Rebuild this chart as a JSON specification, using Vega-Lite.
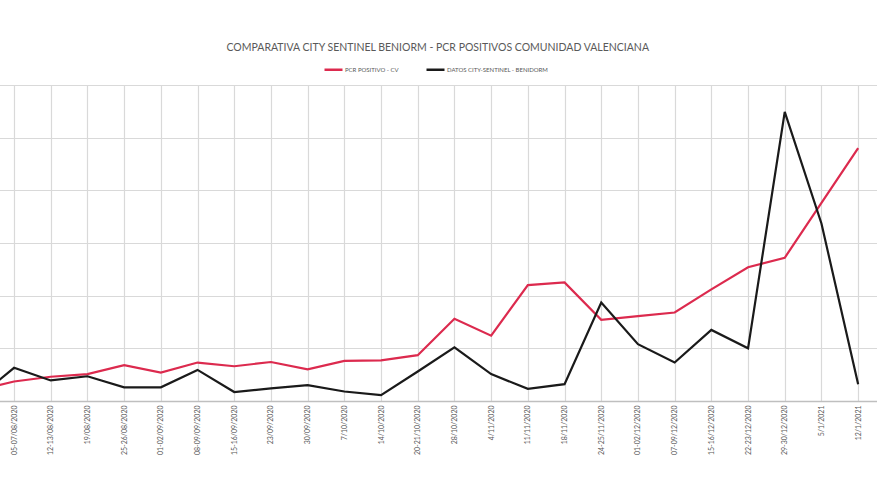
{
  "$schema": "https://vega.github.io/schema/vega-lite/v6.json",
  "width": 917.5,
  "height": 316,
  "autosize": {"type": "none"},
  "padding": {"left": -41, "top": 85, "right": 3.5, "bottom": 94},
  "background": "white",
  "title": {
    "text": "COMPARATIVA CITY SENTINEL BENIORM - PCR POSITIVOS COMUNIDAD VALENCIANA",
    "anchor": "middle",
    "dx": 20,
    "offset": 6,
    "font": "Lato",
    "fontSize": 10.5,
    "fontWeight": "normal",
    "color": "#595959"
  },
  "data": {
    "values": [
      {"fecha": "29-30/07/2020", "serie": "PCR POSITIVO - CV", "valor": 0.20},
      {"fecha": "05-07/08/2020", "serie": "PCR POSITIVO - CV", "valor": 0.37},
      {"fecha": "12-13/08/2020", "serie": "PCR POSITIVO - CV", "valor": 0.46},
      {"fecha": "19/08/2020", "serie": "PCR POSITIVO - CV", "valor": 0.51},
      {"fecha": "25-26/08/2020", "serie": "PCR POSITIVO - CV", "valor": 0.68},
      {"fecha": "01-02/09/2020", "serie": "PCR POSITIVO - CV", "valor": 0.54},
      {"fecha": "08-09/09/2020", "serie": "PCR POSITIVO - CV", "valor": 0.73},
      {"fecha": "15-16/09/2020", "serie": "PCR POSITIVO - CV", "valor": 0.66},
      {"fecha": "23/09/2020", "serie": "PCR POSITIVO - CV", "valor": 0.74},
      {"fecha": "30/09/2020", "serie": "PCR POSITIVO - CV", "valor": 0.60},
      {"fecha": "7/10/2020", "serie": "PCR POSITIVO - CV", "valor": 0.76},
      {"fecha": "14/10/2020", "serie": "PCR POSITIVO - CV", "valor": 0.77},
      {"fecha": "20-21/10/2020", "serie": "PCR POSITIVO - CV", "valor": 0.87},
      {"fecha": "28/10/2020", "serie": "PCR POSITIVO - CV", "valor": 1.56},
      {"fecha": "4/11/2020", "serie": "PCR POSITIVO - CV", "valor": 1.24},
      {"fecha": "11/11/2020", "serie": "PCR POSITIVO - CV", "valor": 2.20},
      {"fecha": "18/11/2020", "serie": "PCR POSITIVO - CV", "valor": 2.25},
      {"fecha": "24-25/11/2020", "serie": "PCR POSITIVO - CV", "valor": 1.54},
      {"fecha": "01-02/12/2020", "serie": "PCR POSITIVO - CV", "valor": 1.61},
      {"fecha": "07-09/12/2020", "serie": "PCR POSITIVO - CV", "valor": 1.68},
      {"fecha": "15-16/12/2020", "serie": "PCR POSITIVO - CV", "valor": 2.12},
      {"fecha": "22-23/12/2020", "serie": "PCR POSITIVO - CV", "valor": 2.54},
      {"fecha": "29-30/12/2020", "serie": "PCR POSITIVO - CV", "valor": 2.72},
      {"fecha": "5/1/2021", "serie": "PCR POSITIVO - CV", "valor": 3.76},
      {"fecha": "12/1/2021", "serie": "PCR POSITIVO - CV", "valor": 4.80},
      {"fecha": "29-30/07/2020", "serie": "DATOS CITY-SENTINEL - BENIDORM", "valor": 0.06},
      {"fecha": "05-07/08/2020", "serie": "DATOS CITY-SENTINEL - BENIDORM", "valor": 0.63},
      {"fecha": "12-13/08/2020", "serie": "DATOS CITY-SENTINEL - BENIDORM", "valor": 0.39},
      {"fecha": "19/08/2020", "serie": "DATOS CITY-SENTINEL - BENIDORM", "valor": 0.47},
      {"fecha": "25-26/08/2020", "serie": "DATOS CITY-SENTINEL - BENIDORM", "valor": 0.26},
      {"fecha": "01-02/09/2020", "serie": "DATOS CITY-SENTINEL - BENIDORM", "valor": 0.26},
      {"fecha": "08-09/09/2020", "serie": "DATOS CITY-SENTINEL - BENIDORM", "valor": 0.59},
      {"fecha": "15-16/09/2020", "serie": "DATOS CITY-SENTINEL - BENIDORM", "valor": 0.17},
      {"fecha": "23/09/2020", "serie": "DATOS CITY-SENTINEL - BENIDORM", "valor": 0.24},
      {"fecha": "30/09/2020", "serie": "DATOS CITY-SENTINEL - BENIDORM", "valor": 0.30},
      {"fecha": "7/10/2020", "serie": "DATOS CITY-SENTINEL - BENIDORM", "valor": 0.18},
      {"fecha": "14/10/2020", "serie": "DATOS CITY-SENTINEL - BENIDORM", "valor": 0.11},
      {"fecha": "20-21/10/2020", "serie": "DATOS CITY-SENTINEL - BENIDORM", "valor": 0.56},
      {"fecha": "28/10/2020", "serie": "DATOS CITY-SENTINEL - BENIDORM", "valor": 1.02},
      {"fecha": "4/11/2020", "serie": "DATOS CITY-SENTINEL - BENIDORM", "valor": 0.51},
      {"fecha": "11/11/2020", "serie": "DATOS CITY-SENTINEL - BENIDORM", "valor": 0.23},
      {"fecha": "18/11/2020", "serie": "DATOS CITY-SENTINEL - BENIDORM", "valor": 0.32},
      {"fecha": "24-25/11/2020", "serie": "DATOS CITY-SENTINEL - BENIDORM", "valor": 1.87},
      {"fecha": "01-02/12/2020", "serie": "DATOS CITY-SENTINEL - BENIDORM", "valor": 1.08},
      {"fecha": "07-09/12/2020", "serie": "DATOS CITY-SENTINEL - BENIDORM", "valor": 0.73},
      {"fecha": "15-16/12/2020", "serie": "DATOS CITY-SENTINEL - BENIDORM", "valor": 1.35},
      {"fecha": "22-23/12/2020", "serie": "DATOS CITY-SENTINEL - BENIDORM", "valor": 1.00},
      {"fecha": "29-30/12/2020", "serie": "DATOS CITY-SENTINEL - BENIDORM", "valor": 5.49},
      {"fecha": "5/1/2021", "serie": "DATOS CITY-SENTINEL - BENIDORM", "valor": 3.37},
      {"fecha": "12/1/2021", "serie": "DATOS CITY-SENTINEL - BENIDORM", "valor": 0.32}
    ]
  },
  "mark": {"type": "line", "strokeWidth": 2.2},
  "encoding": {
    "x": {
      "field": "fecha",
      "type": "ordinal",
      "sort": null,
      "scale": {"type": "point", "padding": 0.5},
      "axis": {
        "title": null,
        "labelAngle": -90,
        "labelFont": "Lato",
        "labelFontSize": 7,
        "labelColor": "#595959",
        "labelPadding": 4,
        "labelExpr": "datum.value == '29-30/07/2020' ? '' : datum.label",
        "ticks": false,
        "domainColor": "#bfbfbf",
        "domainWidth": 1.5,
        "grid": true,
        "gridColor": "#d9d9d9",
        "gridWidth": 1.2
      }
    },
    "y": {
      "field": "valor",
      "type": "quantitative",
      "scale": {"domain": [0, 6]},
      "axis": {
        "values": [0, 1, 2, 3, 4, 5, 6],
        "labels": false,
        "ticks": false,
        "domain": false,
        "title": null,
        "gridColor": "#d9d9d9",
        "gridWidth": 1.2
      }
    },
    "color": {
      "field": "serie",
      "type": "nominal",
      "sort": null,
      "scale": {
        "domain": ["PCR POSITIVO - CV", "DATOS CITY-SENTINEL - BENIDORM"],
        "range": ["#dc2a4e", "#1a1a1a"]
      },
      "legend": {
        "title": null,
        "orient": "none",
        "direction": "horizontal",
        "legendX": 364,
        "legendY": -26,
        "symbolType": "stroke",
        "symbolSize": 324,
        "symbolStrokeWidth": 2.5,
        "labelFont": "Lato",
        "labelFontSize": 6,
        "labelColor": "#595959",
        "labelOffset": 1,
        "columnPadding": 22
      }
    }
  },
  "config": {"view": {"stroke": null}}
}
